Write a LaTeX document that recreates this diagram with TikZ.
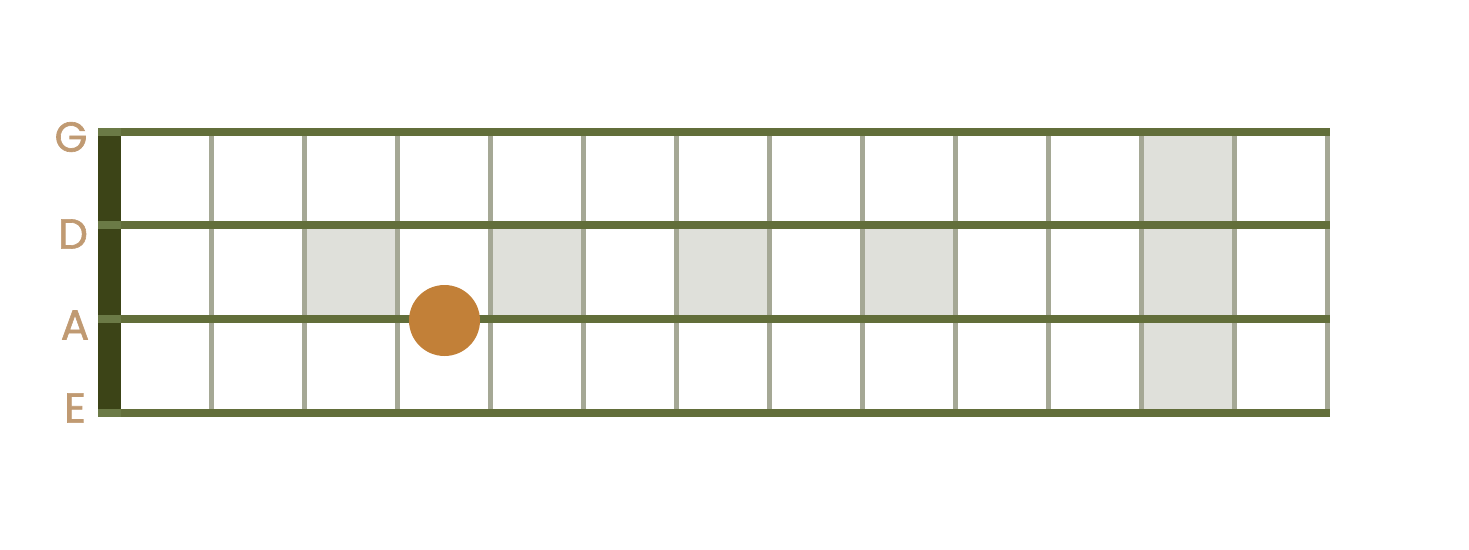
\documentclass[tikz,border=0pt]{standalone}
\usepackage{fontspec}
\setmainfont{Poppins}[FakeBold=1.5]
\definecolor{stringcol}{HTML}{626E3A}
\definecolor{nutcol}{HTML}{3C4417}
\definecolor{nutstring}{HTML}{6B7A46}
\definecolor{fretcol}{HTML}{A5A895}
\definecolor{cellcol}{HTML}{DFE0DA}
\definecolor{dotcol}{HTML}{C28038}
\definecolor{labelcol}{HTML}{C09A72}

\begin{document}
\begin{tikzpicture}[x=1pt,y=-1pt,
  stringname/.style={text=labelcol,inner sep=0pt,font=\fontsize{42}{42}\selectfont}]
  \useasboundingbox (0,0) rectangle (1469,549);
  % marked cells
  \foreach \c in {304.5,490.5,676.5,862.5}
    \fill[cellcol] (\c,225) rectangle ({\c+93},319);
  \fill[cellcol] (1141.5,132) rectangle (1234.5,413);
  % frets
  \foreach \f in {0,...,12}
    \draw[fretcol,line width=4.5pt] ({211.5+93*\f},132) -- ({211.5+93*\f},413);
  % nut
  \fill[nutcol] (98,132) rectangle (121,413);
  % strings
  \foreach \s in {132,225,319,413} {
    \draw[stringcol,line width=8pt] (98,\s) -- (1330,\s);
    \fill[nutstring] (98,{\s-4}) rectangle (121,{\s+4});
  }
  % finger dot
  \fill[dotcol] (444.5,320.5) circle (35.5);
  % string names
  \node[stringname] (g) at (71,137) {G};
  \node[stringname] (d) at (73,234) {D};
  \node[stringname] (a) at (75,325) {A};
  \node[stringname] (e) at (75,408) {E};
\end{tikzpicture}
\end{document}
